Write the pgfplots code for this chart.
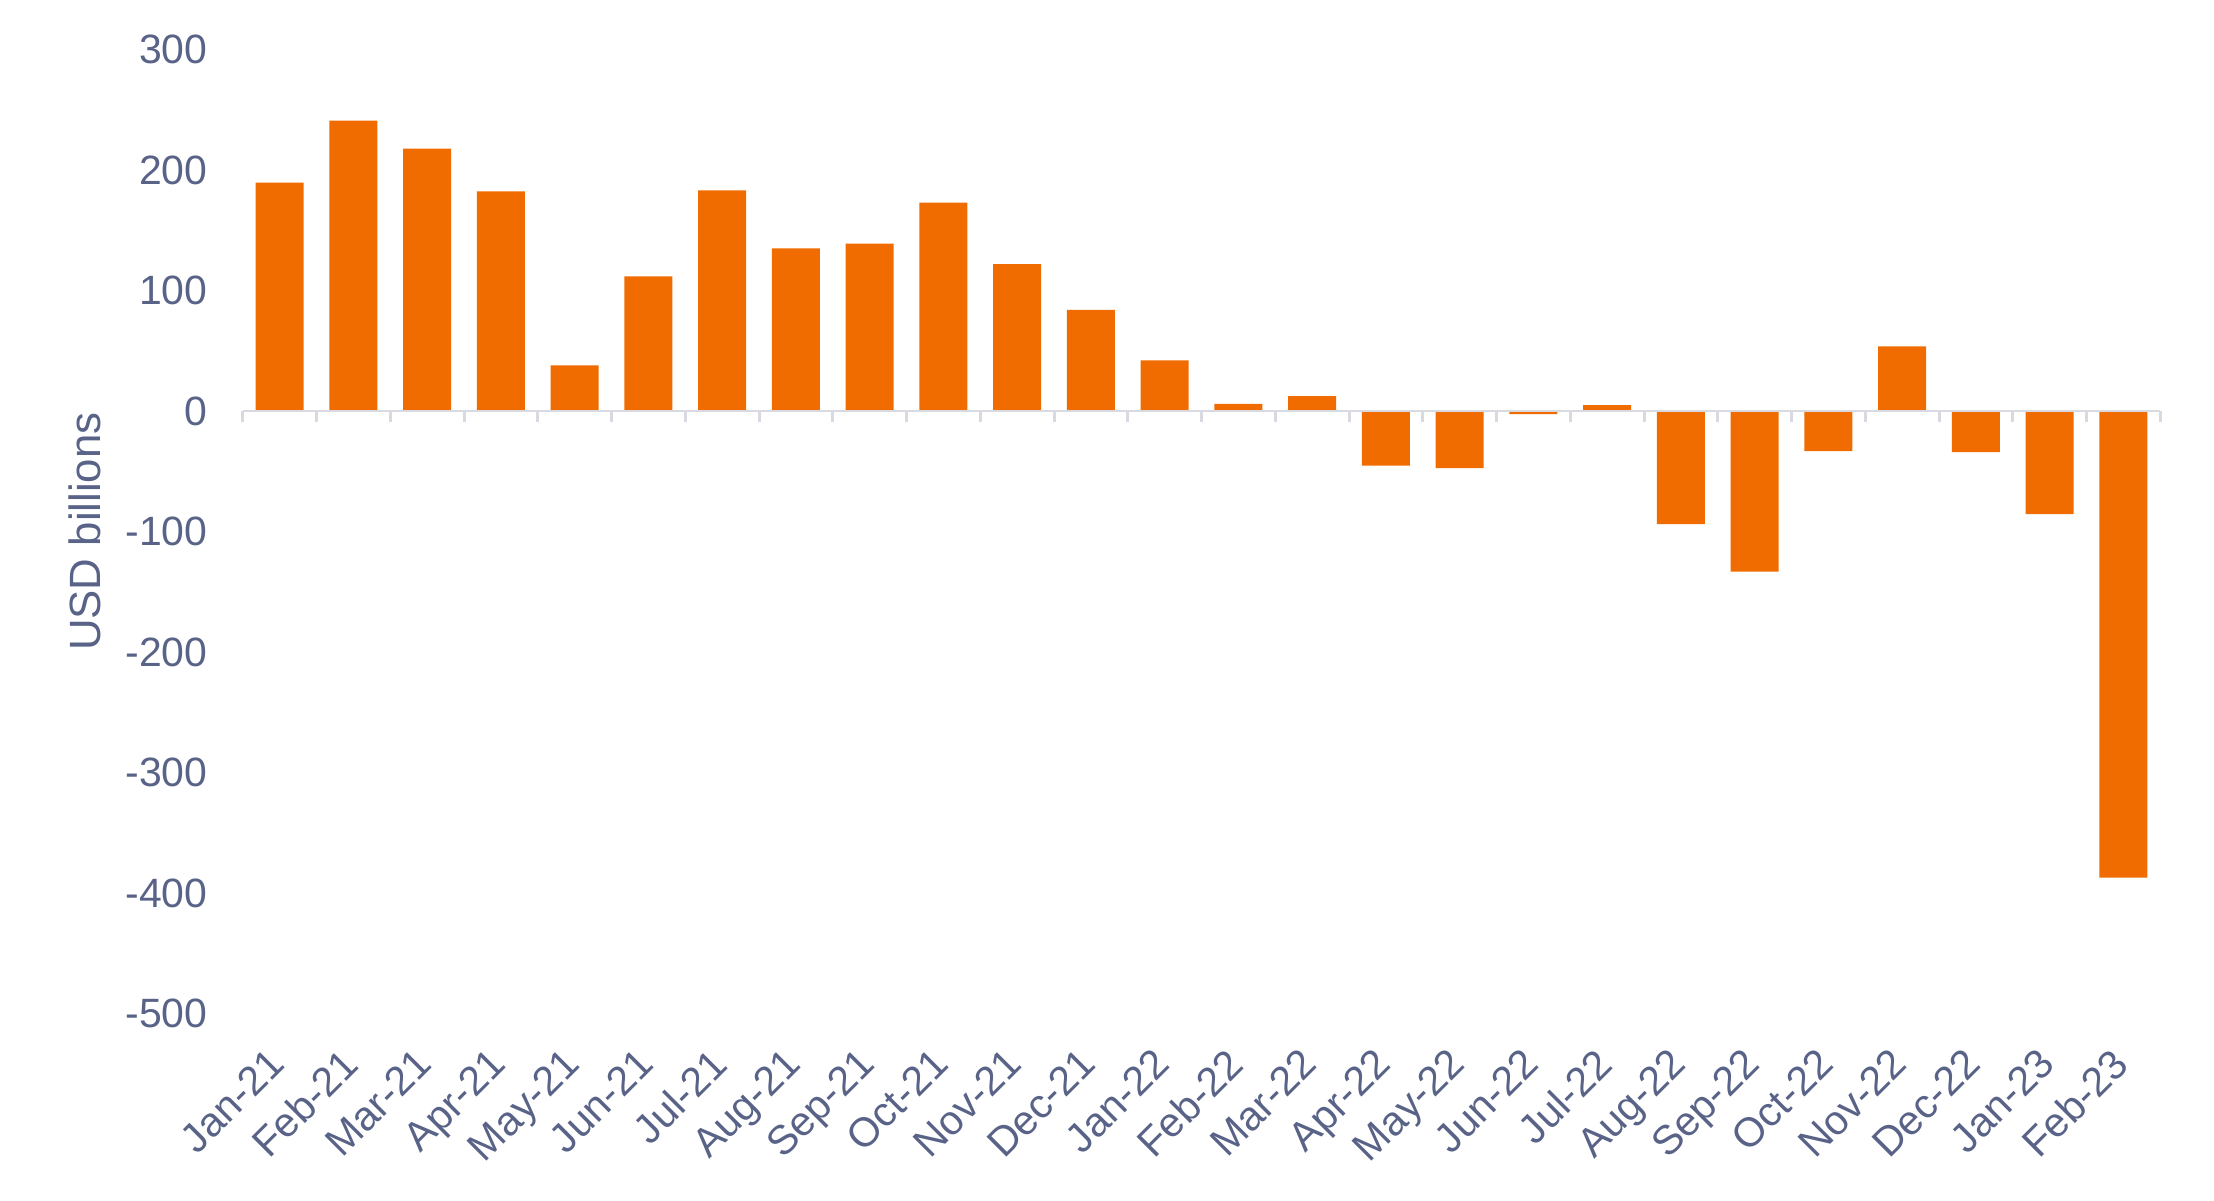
\documentclass[border=0pt]{standalone}
\usepackage{pgfplots}
\pgfplotsset{compat=1.18}
\usepackage{fontspec}
\setmainfont{Liberation Sans}
\definecolor{txt}{RGB}{89,99,135}
\definecolor{barc}{RGB}{240,108,0}
\definecolor{zl}{RGB}{217,217,225}
\begin{document}
\begin{tikzpicture}
\useasboundingbox (-86pt,-66pt) rectangle (698pt,359pt);
\begin{axis}[
 at={(0,0)}, anchor=south west,
 width=679pt, height=341.5pt, scale only axis,
 xmin=-0.5, xmax=25.5, ymin=-500, ymax=300,
 ytick={-500,-400,-300,-200,-100,0,100,200,300},
 xtick={0,...,25},
 xticklabels={Jan-21,Feb-21,Mar-21,Apr-21,May-21,Jun-21,Jul-21,Aug-21,Sep-21,Oct-21,Nov-21,Dec-21,Jan-22,Feb-22,Mar-22,Apr-22,May-22,Jun-22,Jul-22,Aug-22,Sep-22,Oct-22,Nov-22,Dec-22,Jan-23,Feb-23},
 axis line style={draw=none},
 tick style={draw=none},
 font=\fontsize{14.5}{17}\selectfont,
 ticklabel style={text=txt},
 yticklabel style={xshift=-9pt},
 xticklabel style={rotate=45, anchor=north east, yshift=-1.25pt, xshift=-8pt},
 ylabel={USD billions},
 ylabel style={at={(axis description cs:-0.0825,0.5)}, anchor=center, font=\fontsize{15.5}{18}\selectfont, text=txt},
 /pgf/number format/assume math mode=true,
 clip=false,
]
\addplot[ybar, bar width=17pt, fill=barc, draw=none] coordinates {
(0,189.6) (1,241) (2,217.8) (3,182.2) (4,37.9) (5,111.7) (6,183) (7,135) (8,139) (9,173) (10,122) (11,84) (12,42) (13,6) (14,12.4) (15,-45.3) (16,-47.3) (17,-2.5) (18,5) (19,-93.7) (20,-133.2) (21,-33.2) (22,53.6) (23,-34) (24,-85.4) (25,-387)
};
\draw[zl, line width=1pt] (axis cs:-0.5,0) -- (axis cs:25.5,0);
\pgfplotsinvokeforeach{-0.5,0.5,...,25.5}{ \draw[zl, line width=1pt] (axis cs:#1,0) -- ([yshift=-4pt]axis cs:#1,0); }
\end{axis}
\end{tikzpicture}
\end{document}
